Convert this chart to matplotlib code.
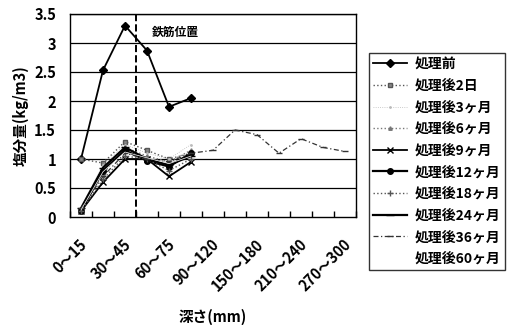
import matplotlib
matplotlib.use("Agg")
import matplotlib.pyplot as plt
import matplotlib.transforms as mtransforms
import numpy as np

plt.rcParams['font.family'] = ['Noto Sans CJK JP', 'DejaVu Sans']

categories = ["0～15", "15～30", "30～45", "45～60", "60～75", "75～90", "90～120",
              "120～150", "150～180", "180～210", "210～240", "240～270", "270～300"]

series_names = ["処理前", "処理後2日", "処理後3ヶ月", "処理後6ヶ月", "処理後9ヶ月",
                "処理後12ヶ月", "処理後18ヶ月", "処理後24ヶ月", "処理後36ヶ月", "処理後60ヶ月"]

v_before = [1.0, 2.53, 3.3, 2.87, 1.9, 2.05]
v_2d = [1.0, 0.93, 1.3, 1.15, 1.0, 1.1]
v_3m = [0.15, 0.9, 1.25, 1.1, 1.0, 1.25]
v_6m = [0.12, 0.75, 1.2, 1.05, 0.95, 1.15]
v_9m = [0.1, 0.6, 1.0, 1.0, 0.7, 0.95]
v_12m = [0.1, 0.8, 1.15, 0.97, 0.87, 1.1]
v_18m = [0.1, 0.65, 1.05, 1.0, 0.8, 1.0]
v_24m = [0.15, 0.85, 1.2, 1.0, 0.9, 1.05]
v_36m = [0.15, 0.7, 1.1, 1.0, 0.95, 1.1, 1.15, 1.5, 1.42, 1.1, 1.35, 1.2, 1.13]
v_60m = [0.12, 0.78, 1.12, 1.02, 0.92, 1.05]

yticks = [0, 0.5, 1, 1.5, 2, 2.5, 3, 3.5]
ytick_labels = ["0", "0.5", "1", "1.5", "2", "2.5", "3", "3.5"]
shown_xlabels = ["0～15", "30～45", "60～75", "90～120", "150～180", "210～240", "270～300"]

values = [v_before, v_2d, v_3m, v_6m, v_9m, v_12m, v_18m, v_24m, v_36m, v_60m]
styles = [
    dict(color='black', ls='-', lw=1.3, marker='D', ms=4),
    dict(color='#555555', ls=':', lw=1.0, marker='s', ms=3.5, mfc='#888888'),
    dict(color='#bbbbbb', ls=':', lw=0.6, marker='.', ms=2),
    dict(color='#777777', ls=':', lw=1.0, marker='^', ms=2.5),
    dict(color='black', ls='-', lw=1.3, marker='x', ms=5),
    dict(color='black', ls='-', lw=1.6, marker='o', ms=4),
    dict(color='#555555', ls=':', lw=1.0, marker='+', ms=5),
    dict(color='black', ls='-', lw=1.6, marker='_', ms=6),
    dict(color='#333333', ls=(0, (4, 2, 1, 2)), lw=0.9, marker='_', ms=5),
    dict(color='white', ls='-', lw=0.5, marker='', ms=0),
]

fig = plt.figure(figsize=(5.14, 3.25), dpi=100)
ax = fig.add_axes([70/514, 1-217/325, 286/514, 203/325])

x = np.arange(len(categories))
handles = []
for name, vals, st in zip(series_names, values, styles):
    h, = ax.plot(x[:len(vals)], vals, label=name, zorder=3, **st)
    handles.append(h)

ax.set_xlim(-0.5, len(categories) - 0.5)
ax.set_ylim(0, 3.5)
ax.set_yticks(yticks)
ax.set_yticklabels(ytick_labels, fontsize=10.5, fontweight='bold')
for yv in yticks[1:]:
    ax.axhline(yv, color='black', lw=0.9, zorder=1)

ax.set_xticks([categories.index(c) for c in shown_xlabels])
ax.set_xticklabels(shown_xlabels, rotation=45, ha='right', rotation_mode='anchor',
                   fontsize=10.5, fontweight='bold')
ax.tick_params(axis='x', length=0, pad=14)
ax.tick_params(axis='y', length=0, pad=10)
offset = mtransforms.ScaledTranslation(-2/100, 0, fig.dpi_scale_trans)
for lbl in ax.get_xticklabels():
    lbl.set_transform(lbl.get_transform() + offset)
ax.set_xticks(np.arange(len(categories) + 1) - 0.5, minor=True)
ax.tick_params(axis='x', which='minor', direction='in', length=4, width=1)

ax.axvline(2.5, color='black', ls='--', lw=1.4, zorder=2)
ax.text(3.23, 3.19, "鉄筋位置", fontsize=8.5, fontweight='bold', va='center', ha='left')

ax.set_ylabel("塩分量(kg/m3)", fontsize=10.5, fontweight='bold', labelpad=4)
ax.set_xlabel("深さ(mm)", fontsize=10.5, fontweight='bold', labelpad=10)
for sp in ax.spines.values():
    sp.set_linewidth(1.0)

leg = fig.legend(handles=handles, loc='upper left', bbox_to_anchor=(369/514, 1-53/325),
                 frameon=True, fancybox=False, edgecolor='black',
                 handlelength=2.4, labelspacing=0.55, borderpad=0.3, handletextpad=0.6,
                 borderaxespad=0.0,
                 prop={'weight': 'bold', 'size': 10})
leg.get_frame().set_linewidth(1.0)

fig.savefig("out.png", dpi=100)
